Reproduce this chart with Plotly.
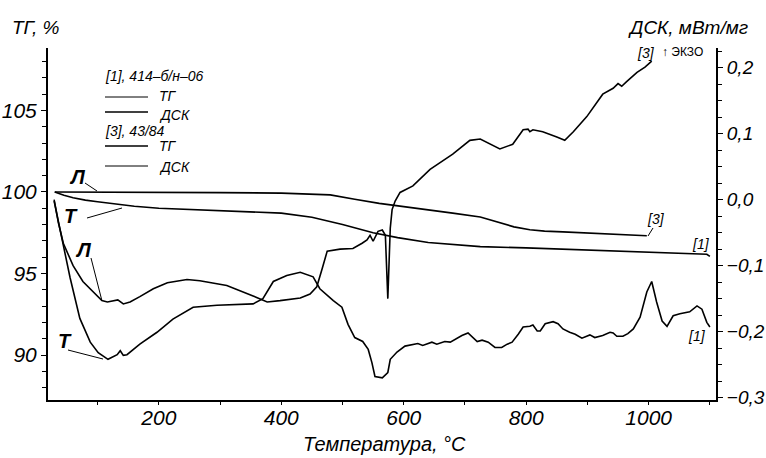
import plotly.graph_objects as go

# ---------------- data ----------------
# TG [1] 414-б/н-06  (curve "Т")
T_tg1 = [30, 45, 60, 80, 100, 130, 160, 200, 250, 300, 350, 400, 450, 500, 550, 590,
         640, 700, 725, 800, 850, 900, 950, 1000, 1050, 1080, 1095, 1100]
TG1 = [100.0, 99.8, 99.65, 99.5, 99.4, 99.25, 99.12, 99.0, 98.92, 98.85, 98.78, 98.7, 98.45,
       98.0, 97.5, 97.2, 96.9, 96.72, 96.65, 96.57, 96.5, 96.42, 96.35, 96.3, 96.25, 96.2,
       96.18, 96.05]

# TG [3] 43/84  (curve "Л")
T_tg3 = [30, 100, 200, 300, 400, 450, 480, 520, 560, 600, 643, 680, 725, 760, 780, 806,
         830, 860, 900, 942, 997]
TG3 = [100.0, 100.0, 99.98, 99.96, 99.93, 99.88, 99.82, 99.55, 99.3, 99.1, 98.9, 98.7,
       98.47, 98.1, 97.86, 97.68, 97.6, 97.55, 97.48, 97.43, 97.31]

# DSC [1]  (curve "Т")
T_dsc1 = [29, 39, 55, 71, 88, 101, 117, 132, 137, 142, 148, 169, 197, 223, 256, 295, 354,
          370, 387, 409, 431, 452, 463, 485, 499, 509, 520, 533, 542, 548, 553, 565, 574,
          578, 589, 602, 615, 623, 631, 646, 654, 667, 676, 687, 695, 705, 713, 720, 728,
          738, 749, 760, 769, 777, 787, 795, 806, 811, 818, 823, 831, 844, 852, 860, 871,
          880, 891, 899, 904, 912, 925, 937, 942, 948, 958, 966, 975, 986, 997, 1005, 1013,
          1022, 1030, 1040, 1051, 1067, 1079, 1087, 1095, 1100]
DSC1 = [-0.002, -0.048, -0.118, -0.180, -0.216, -0.232, -0.242, -0.235, -0.229, -0.236,
        -0.235, -0.219, -0.201, -0.181, -0.163, -0.160, -0.158, -0.150, -0.124, -0.115,
        -0.110, -0.117, -0.135, -0.153, -0.163, -0.189, -0.209, -0.215, -0.227, -0.247,
        -0.268, -0.270, -0.262, -0.242, -0.231, -0.222, -0.220, -0.218, -0.221, -0.216,
        -0.219, -0.215, -0.216, -0.210, -0.206, -0.202, -0.209, -0.215, -0.213, -0.216,
        -0.224, -0.224, -0.219, -0.216, -0.204, -0.193, -0.192, -0.190, -0.199, -0.199,
        -0.188, -0.185, -0.188, -0.196, -0.201, -0.204, -0.210, -0.207, -0.205, -0.209,
        -0.206, -0.201, -0.202, -0.207, -0.207, -0.203, -0.196, -0.178, -0.140, -0.124,
        -0.155, -0.184, -0.192, -0.176, -0.173, -0.170, -0.161, -0.166, -0.186, -0.193]

# DSC [3]  (curve "Л")
T_dsc3 = [29, 36, 44, 60, 76, 93, 107, 116, 133, 142, 153, 169, 191, 214, 246, 267, 311,
          354, 377, 398, 431, 447, 458, 467, 475, 496, 517, 532, 540, 545, 550, 558, 565,
          570, 574, 578, 581, 586, 594, 615, 643, 680, 708, 725, 741, 757, 778, 795, 803,
          806, 811, 827, 850, 863, 877, 899, 925, 942, 950, 956, 964, 981, 994, 1005]
DSC3 = [0.0, -0.035, -0.066, -0.100, -0.124, -0.140, -0.153, -0.155, -0.152, -0.158,
        -0.155, -0.147, -0.135, -0.126, -0.121, -0.123, -0.130, -0.146, -0.155, -0.153,
        -0.149, -0.143, -0.132, -0.104, -0.078, -0.075, -0.074, -0.066, -0.061, -0.054,
        -0.063, -0.048, -0.046, -0.054, -0.150, -0.043, -0.015, -0.002, 0.011, 0.021,
        0.046, 0.069, 0.090, 0.092, 0.084, 0.077, 0.084, 0.106, 0.107, 0.103, 0.106,
        0.103, 0.095, 0.090, 0.103, 0.126, 0.160, 0.169, 0.176, 0.172, 0.179, 0.193,
        0.201, 0.210]

X_TICKS = [200, 400, 600, 800, 1000]
TG_TICKS = [90, 95, 100, 105]
DSC_TICKS = [-0.3, -0.2, -0.1, 0.0, 0.1, 0.2]
DSC_TICKTEXT = ["\u22120,3", "\u22120,2", "\u22120,1", "0,0", "0,1", "0,2"]

# ---------------- styling / layout ----------------
FONT = "Liberation Sans, Arial, sans-serif"
W, H = 766, 458
L, R, T, B = 48, 716, 48, 400   # plot area in pixels


def px(x):
    return (x - L) / (R - L)


def py(y):
    return (B - y) / (B - T)


LINE = dict(color="black", width=1.6)

fig = go.Figure()
fig.add_trace(go.Scatter(x=T_tg1, y=TG1, mode="lines", line=LINE, yaxis="y", showlegend=False))
fig.add_trace(go.Scatter(x=T_tg3, y=TG3, mode="lines", line=LINE, yaxis="y", showlegend=False))
fig.add_trace(go.Scatter(x=T_dsc1, y=DSC1, mode="lines", line=LINE, yaxis="y2", showlegend=False))
fig.add_trace(go.Scatter(x=T_dsc3, y=DSC3, mode="lines", line=LINE, yaxis="y2", showlegend=False))

ann = []
shapes = []


def text(x, y, s, size=14, italic=True, bold=False, xanchor="center"):
    ann.append(dict(x=px(x), y=py(y), xref="paper", yref="paper", text=s, showarrow=False,
                    xanchor=xanchor, yanchor="middle",
                    font=dict(family=FONT, size=size, color="black",
                              style="italic" if italic else "normal",
                              weight="bold" if bold else "normal")))


def seg(x0, y0, x1, y1, w=1.0):
    shapes.append(dict(type="line", xref="paper", yref="paper", x0=px(x0), y0=py(y0),
                       x1=px(x1), y1=py(y1), line=dict(color="black", width=w)))


# axis titles
text(10, 27, "ТГ, %", size=19, xanchor="left")
text(750, 28, "ДСК, мВт/мг", size=19, xanchor="right")
text(384, 444, "Температура, °C", size=20)
text(657, 53, "[3]", size=14, xanchor="right")
text(660, 52, "↑ ЭКЗО", size=12, italic=False, xanchor="left")

# legend block
text(103, 76, "[1], 414–б/н–06", size=14, xanchor="left")
seg(105, 97, 148, 97, 1.0)
text(157, 96, "ТГ", size=14, xanchor="left")
seg(105, 112, 148, 112, 1.6)
text(157, 115, "ДСК", size=14, xanchor="left")
text(103, 131, "[3], 43/84", size=14, xanchor="left")
seg(105, 146, 148, 146, 1.6)
text(157, 146, "ТГ", size=14, xanchor="left")
seg(105, 166, 148, 166, 1.0)
text(157, 167, "ДСК", size=14, xanchor="left")

# curve labels
text(77, 177, "Л", size=20, bold=True)
seg(85, 183, 97, 191)
text(71, 216, "Т", size=20, bold=True)
seg(87, 218, 122, 208)
text(83, 250, "Л", size=20, bold=True)
seg(91, 258, 102, 301)
text(65, 341, "Т", size=20, bold=True)
seg(68, 350, 103, 359)

# end labels
text(656, 219, "[3]", size=14)
seg(648, 236, 653, 228)
text(701, 244, "[1]", size=14)
text(697, 336, "[1]", size=14)

fig.update_layout(
    width=W, height=H,
    margin=dict(l=L, r=W - R, t=T, b=H - B, autoexpand=False),
    paper_bgcolor="white", plot_bgcolor="white",
    showlegend=False,
    annotations=ann, shapes=shapes,
    xaxis=dict(range=[19, 1110], tickvals=X_TICKS, ticktext=[str(v) for v in X_TICKS],
               automargin=False, ticklabelstandoff=-5,
               showline=True, linecolor="black", linewidth=2, mirror=False,
               ticks="outside", ticklen=3, tickcolor="black",
               minor=dict(dtick=100, tick0=0, ticks="outside", ticklen=3, tickcolor="black"),
               showgrid=False, zeroline=False,
               tickfont=dict(family=FONT, size=21, color="black", style="italic")),
    yaxis=dict(range=[87.24, 108.83], tickvals=TG_TICKS, ticktext=[str(v) for v in TG_TICKS],
               automargin=False,
               showline=True, linecolor="black", linewidth=2, mirror=False,
               ticks="outside", ticklen=5, tickcolor="black",
               minor=dict(dtick=1, tick0=0, ticks="outside", ticklen=4, tickcolor="black"),
               showgrid=False, zeroline=False,
               tickfont=dict(family=FONT, size=21, color="black", style="italic")),
    yaxis2=dict(range=[-0.3037, 0.23], overlaying="y", side="right",
                tickvals=DSC_TICKS, ticktext=DSC_TICKTEXT, automargin=False,
                showline=True, linecolor="black", linewidth=2, mirror=False,
                ticks="outside", ticklen=5, tickcolor="black",
                minor=dict(dtick=0.025, tick0=0, ticks="outside", ticklen=4, tickcolor="black"),
                showgrid=False, zeroline=False,
                tickfont=dict(family=FONT, size=19, color="black", style="italic")),
)

fig.write_html("out.html")
